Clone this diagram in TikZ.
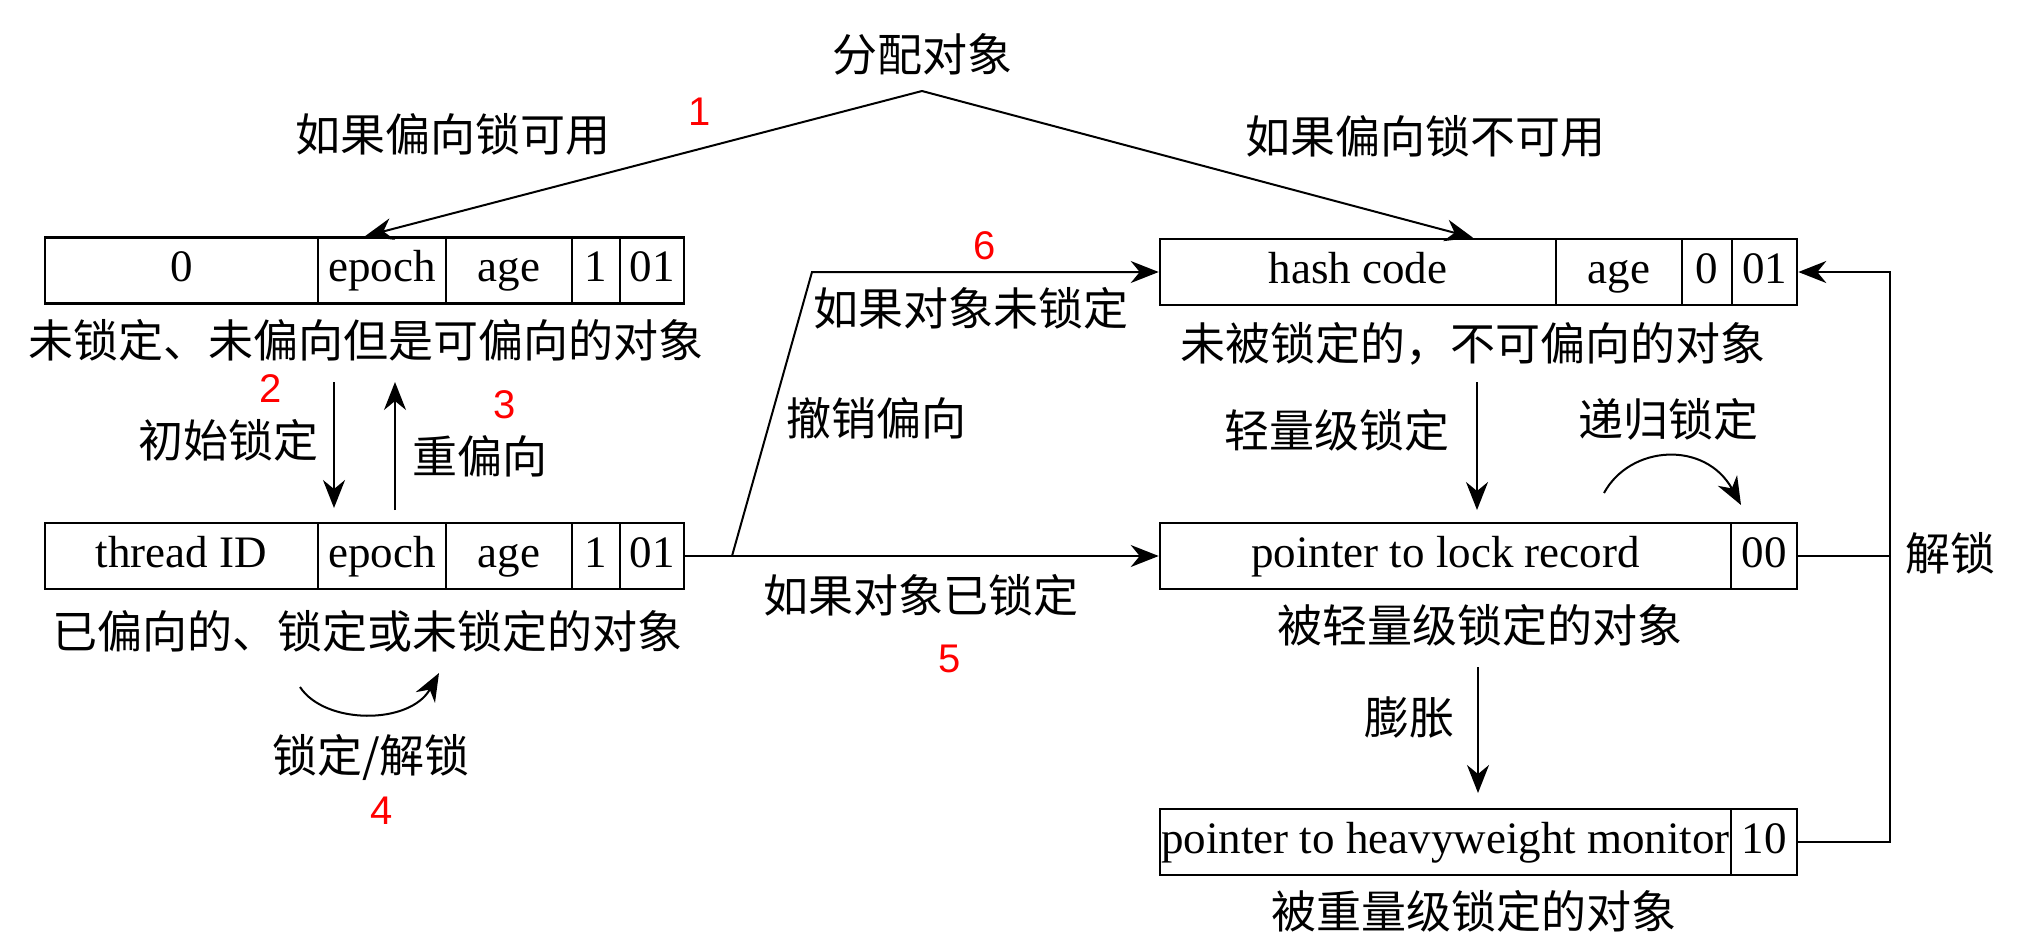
\documentclass[tikz,border=0pt]{standalone}
\usepackage{fontspec}
\setmainfont{Liberation Serif}
\newfontfamily\cjk{Noto Sans CJK SC}
\newfontfamily\numfont{Liberation Sans}
\usetikzlibrary{arrows.meta,calc}
\begin{document}
\begin{tikzpicture}[x=0.5pt,y=-0.5pt,
  cell/.style={draw, line width=1.3pt, rectangle, inner sep=0pt, minimum height=33pt,
               text height=16pt, text depth=5pt, font=\fontsize{22.5}{27}\selectfont},
  lbl/.style={inner sep=0pt, text height=17pt, text depth=2pt, font=\cjk\fontsize{22.5}{27}\selectfont},
  num/.style={inner sep=0pt, text=red, font=\numfont\fontsize{20}{24}\selectfont},
  arr/.style={line width=1pt, -{Stealth[length=14pt,width=11pt,inset=4.5pt]}},
  ln/.style={line width=1pt}]
\useasboundingbox (0,0) rectangle (2028,944);

% Box A: unlocked, unbiased but biasable
\node[cell, minimum width=136.5pt] (a0) at (181.5,270.5) {0};
\node[cell, minimum width=64pt]    (a1) at (382,270.5) {epoch};
\node[cell, minimum width=63pt]    (a2) at (509,270.5) {age};
\node[cell, minimum width=24pt]    (a3) at (596,270.5) {1};
\node[cell, minimum width=32pt]    (a4) at (652,270.5) {01};
\node[lbl] (capA) at (366,342) {未锁定、未偏向但是可偏向的对象};

% Box B: biased
\node[cell, minimum width=136.5pt] (b0) at (181.5,556) {thread ID};
\node[cell, minimum width=64pt]    (b1) at (382,556) {epoch};
\node[cell, minimum width=63pt]    (b2) at (509,556) {age};
\node[cell, minimum width=24pt]    (b3) at (596,556) {1};
\node[cell, minimum width=32pt]    (b4) at (652,556) {01};
\node[lbl] (capB) at (367,633) {已偏向的、锁定或未锁定的对象};

% Box C: unlocked, not biasable
\node[cell, minimum width=198pt]   (c0) at (1358,272) {hash code};
\node[cell, minimum width=63pt]    (c1) at (1619,272) {age};
\node[cell, minimum width=25pt]    (c2) at (1707,272) {0};
\node[cell, minimum width=32.5pt]  (c3) at (1764.5,272) {01};
\node[lbl] (capC) at (1473,345) {未被锁定的，不可偏向的对象};

% Box D: lightweight locked
\node[cell, minimum width=285.5pt] (d0) at (1445.5,556) {pointer to lock record};
\node[cell, minimum width=33pt]    (d1) at (1764,556) {00};
\node[lbl] (capD) at (1480,627) {被轻量级锁定的对象};

% Box E: heavyweight locked
\node[cell, minimum width=285.5pt] (e0) at (1445.5,842) {pointer to heavyweight monitor};
\node[cell, minimum width=33pt]    (e1) at (1764,842) {10};
\node[lbl] (capE) at (1474,913) {被重量级锁定的对象};

% allocation
\node[lbl] (alloc) at (922,56) {分配对象};
\coordinate (apex) at (922,91);
\draw[arr] (apex) -- ([xshift=-8.5pt]a1.north);
\draw[arr] (apex) -- ([xshift=57.5pt]c0.north);
\node[lbl] (ifb) at (453,136) {如果偏向锁可用};
\node[lbl] (ifnb) at (1425,138) {如果偏向锁不可用};
\node[num] (n1) at (700,112) {1};

% A <-> B
\coordinate (s2) at (334,382);
\coordinate (t2) at (334,508);
\coordinate (s3) at (395,510);
\coordinate (t3) at (395,382);
\draw[arr] (s2) -- (t2);
\draw[arr] (s3) -- (t3);
\node[lbl] (init) at (228,442) {初始锁定};
\node[lbl] (rebias) at (480,458) {重偏向};
\node[num] (n2) at (271,389) {2};
\node[num] (n3) at (505,405) {3};

% lock/unlock loop on B
\coordinate (l4s) at (300,687);
\coordinate (l4e) at (439,673);
\draw[arr] (l4s) .. controls (325,725) and (410,725) .. (l4e);
\node[lbl] (lockun) at (371,757) {锁定/解锁};
\node[num] (n4) at (382,811) {4};

% B -> C / D
\coordinate (br) at (732,556);
\coordinate (bend) at (812,272);
\draw[arr] (b4.east) -- (d0.west);
\draw[arr] (br) -- (bend) -- (c0.west);
\node[lbl] (ifunl) at (971,310) {如果对象未锁定};
\node[lbl] (revoke) at (876,420) {撤销偏向};
\node[lbl] (iflk) at (921,597) {如果对象已锁定};
\node[num] (n6) at (985,246) {6};
\node[num] (n5) at (950,659) {5};

% C -> D
\coordinate (s4) at (1477,382);
\coordinate (t4) at (1477,510);
\draw[arr] (s4) -- (t4);
\node[lbl] (light) at (1337,432) {轻量级锁定};

% recursive lock loop on D
\coordinate (rs) at (1604,493);
\coordinate (re) at (1741,505);
\draw[arr] (rs) .. controls (1630,445) and (1705,440) .. (re);
\node[lbl] (recur) at (1668,421) {递归锁定};

% D -> E
\coordinate (s5) at (1478,667);
\coordinate (t5) at (1478,793);
\draw[arr] (s5) -- (t5);
\node[lbl] (inflate) at (1409,719) {膨胀};

% unlock back to C
\coordinate (rx) at (1890,0);
\draw[arr] (e1.east) -- (e1.east -| rx) -- (c3.east -| rx) -- (c3.east);
\draw[ln] (d1.east) -- (d1.east -| rx);
\node[lbl] (unlock) at (1950,555) {解锁};
\end{tikzpicture}
\end{document}
